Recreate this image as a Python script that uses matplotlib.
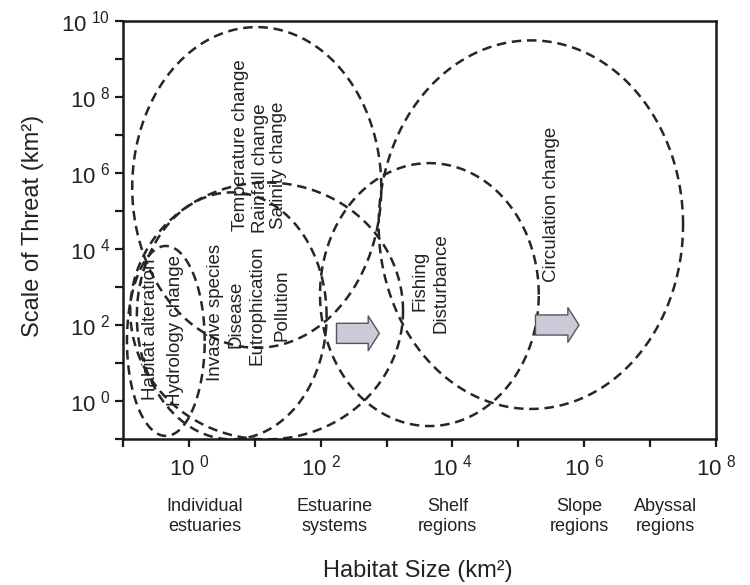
import numpy as np
import matplotlib
matplotlib.use('Agg')
import matplotlib.pyplot as plt
from matplotlib.ticker import FixedLocator, FixedFormatter, NullFormatter
from matplotlib.transforms import blended_transform_factory

plt.rcParams['font.family'] = ['Liberation Sans', 'DejaVu Sans']

# ---------------- data (all positions in log10 units) ----------------
# dashed envelopes of threat scale vs habitat scale
ellipse_names = ['Temperature/Rainfall/Salinity', 'Estuarine outer', 'Estuarine inner',
                 'Habitat/Hydrology', 'Fishing', 'Circulation']
ellipse_cx = [1.03, 1.18, 0.65, -0.35, 3.65, 5.19]
ellipse_cy = [5.62, 2.37, 2.24, 1.58, 2.80, 4.64]
ellipse_rx = [1.89, 2.07, 1.44, 0.59, 1.66, 2.31]
ellipse_ry = [4.22, 3.38, 3.25, 2.50, 3.46, 4.85]

threat_labels = ['Habitat alteration', 'Hydrology change', 'Invasive species', 'Disease',
                 'Eutrophication', 'Pollution', 'Temperature change', 'Rainfall change',
                 'Salinity change', 'Fishing', 'Disturbance', 'Circulation change']
threat_x = [-0.59, -0.21, 0.41, 0.71, 1.04, 1.41, 0.79, 1.09, 1.36, 3.51, 3.83, 5.51]
threat_y = [1.90, 1.85, 2.32, 2.27, 2.51, 2.51, 6.73, 6.12, 6.20, 3.17, 3.09, 5.17]

arrow_x0 = [2.24, 5.26]
arrow_x1 = [2.89, 5.92]
arrow_y = [1.78, 2.00]

habitat_cats = ['Individual\nestuaries', 'Estuarine\nsystems', 'Shelf\nregions',
                'Slope\nregions', 'Abyssal\nregions']
habitat_cat_x = [0.24, 2.21, 3.93, 5.92, 7.23]

x_major_exp = [0, 2, 4, 6, 8]
x_minor_exp = [-1, 1, 3, 5, 7]
y_major_exp = [0, 2, 4, 6, 8, 10]
y_minor_exp = [-1, 1, 3, 5, 7, 9]
x_lim_exp = [-1, 8]
y_lim_exp = [-1, 10]

# ---------------- figure ----------------
fig = plt.figure(figsize=(7.5, 5.85), dpi=100)
ax = fig.add_axes([0.164, 0.2496, 0.7907, 0.7145])
ax.set_xscale('log')
ax.set_yscale('log')
ax.set_xlim(10.0 ** x_lim_exp[0], 10.0 ** x_lim_exp[1])
ax.set_ylim(10.0 ** y_lim_exp[0], 10.0 ** y_lim_exp[1])

line_col = '#262626'
t = np.linspace(0, 2 * np.pi, 600)
for cx, cy, rx, ry in zip(ellipse_cx, ellipse_cy, ellipse_rx, ellipse_ry):
    ax.plot(10 ** (cx + rx * np.cos(t)), 10 ** (cy + ry * np.sin(t)),
            ls=(0, (3.8, 2.3)), lw=1.8, color=line_col)

for lab, xv, yv in zip(threat_labels, threat_x, threat_y):
    ax.text(10 ** xv, 10 ** yv, lab, rotation=90, ha='center', va='center',
            fontsize=13.5, color='#222222')

for x0, x1, yv in zip(arrow_x0, arrow_x1, arrow_y):
    ax.annotate('', xy=(10 ** x1, 10 ** yv), xytext=(10 ** x0, 10 ** yv),
                arrowprops=dict(arrowstyle='simple,head_length=0.8,head_width=2.5,tail_width=1.45',
                                mutation_scale=10, fc='#cacad8', ec='#555555', lw=1.0,
                                shrinkA=0, shrinkB=0))

trans = blended_transform_factory(ax.transData, ax.transAxes)
for lab, xv in zip(habitat_cats, habitat_cat_x):
    ax.text(10 ** xv, -0.186, lab, transform=trans, ha='center', va='center',
            fontsize=13, color='#222222', linespacing=1.2)

ax.xaxis.set_major_locator(FixedLocator([10.0 ** e for e in x_major_exp]))
ax.xaxis.set_major_formatter(FixedFormatter([r'$\mathregular{10^{\ %d}}$' % e for e in x_major_exp]))
ax.xaxis.set_minor_locator(FixedLocator([10.0 ** e for e in x_minor_exp]))
ax.xaxis.set_minor_formatter(NullFormatter())
ax.yaxis.set_major_locator(FixedLocator([10.0 ** e for e in y_major_exp]))
ax.yaxis.set_major_formatter(FixedFormatter([r'$\mathregular{10^{\ %d}}$' % e for e in y_major_exp]))
ax.yaxis.set_minor_locator(FixedLocator([10.0 ** e for e in y_minor_exp]))
ax.yaxis.set_minor_formatter(NullFormatter())

ax.tick_params(which='both', direction='out', length=5.5, width=1.6, color='#1a1a1a',
               top=False, right=False)
ax.tick_params(axis='x', which='major', labelsize=16, pad=6, labelcolor='#222222')
ax.tick_params(axis='y', which='major', labelsize=16, pad=4, labelcolor='#222222')

for s in ax.spines.values():
    s.set_linewidth(1.8)
    s.set_color('#1a1a1a')

ax.set_xlabel('Habitat Size (km²)', fontsize=17, color='#222222')
ax.xaxis.set_label_coords(0.497, -0.316)
ax.xaxis.label.set_va('center')
ax.set_ylabel('Scale of Threat (km²)', fontsize=17, color='#222222')
ax.yaxis.set_label_coords(-0.152, 0.51)
ax.yaxis.label.set_va('center')

fig.savefig('out.png', dpi=100, facecolor='white')
